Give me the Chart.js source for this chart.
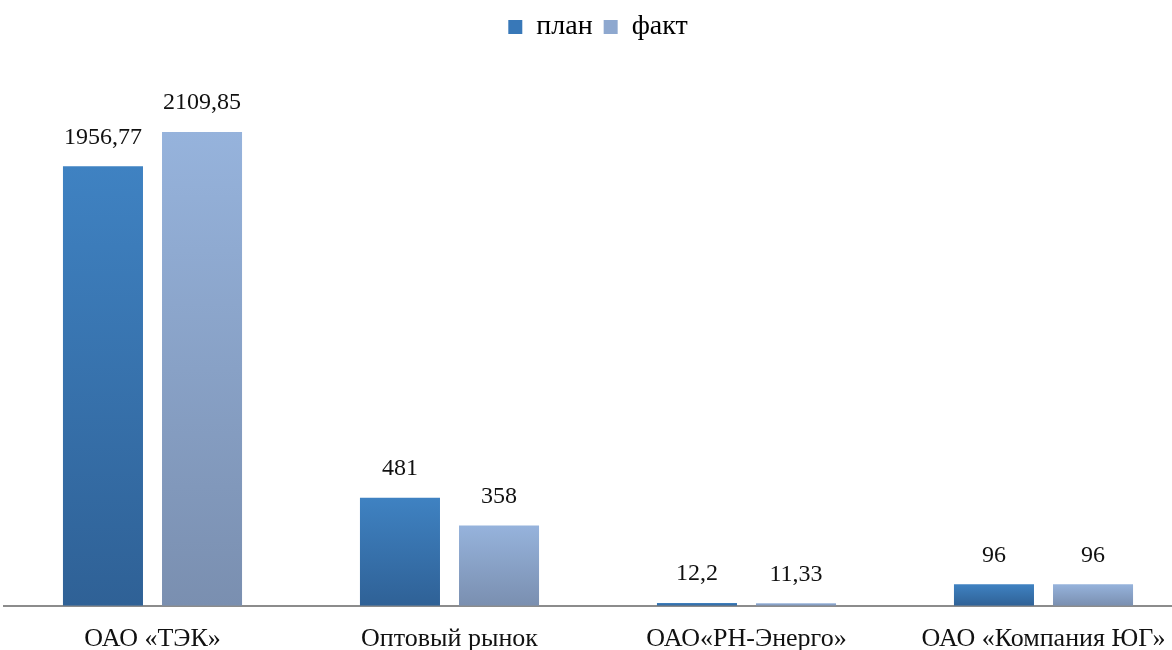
<!DOCTYPE html>
<html>
<head>
<meta charset="utf-8">
<script src="https://cdn.jsdelivr.net/npm/chart.js@4/dist/chart.umd.min.js"></script>
<style>
  html, body { margin: 0; padding: 0; background: #fff; overflow: hidden; }
  #wrap { width: 1192px; height: 673px; position: relative; }
</style>
</head>
<body>
<div id="wrap"><canvas id="c"></canvas></div>
<script>
// данные
const categories = ['ОАО «ТЭК»', 'Оптовый рынок', 'ОАО«РН-Энерго»', 'ОАО «Компания ЮГ»'];
const planValues = [1956.77, 481, 12.2, 96];
const factValues = [2109.85, 358, 11.33, 96];
const seriesNames = ['план', 'факт'];

const FONT = '"Liberation Serif", "DejaVu Serif", serif';

// цвета: верх / низ градиента
const planColors = ['#3f82c2', '#2f6196'];
const factColors = ['#96b3dc', '#7a8fb0'];

// градиент по каждому столбцу (светлее сверху, темнее снизу)
const barGradient = {
  id: 'barGradient',
  beforeDatasetDraw(chart, args) {
    const { ctx } = chart;
    const cols = args.index === 0 ? planColors : factColors;
    args.meta.data.forEach(bar => {
      const top = Math.min(bar.y, bar.base);
      const bottom = Math.max(bar.y, bar.base);
      const g = ctx.createLinearGradient(0, top, 0, bottom + 0.01);
      g.addColorStop(0, cols[0]);
      g.addColorStop(1, cols[1]);
      bar.options.backgroundColor = g;
    });
  }
};

// подписи значений над столбцами
const valueLabels = {
  id: 'valueLabels',
  afterDatasetsDraw(chart) {
    const { ctx } = chart;
    ctx.save();
    ctx.font = '24px ' + FONT;
    ctx.fillStyle = '#111';
    ctx.textAlign = 'center';
    ctx.textBaseline = 'middle';
    chart.data.datasets.forEach((ds, i) => {
      chart.getDatasetMeta(i).data.forEach((bar, j) => {
        const txt = String(ds.data[j]).replace('.', ',');
        ctx.fillText(txt, bar.x, bar.y - 29);
      });
    });
    ctx.restore();
  }
};

new Chart(document.getElementById('c'), {
  type: 'bar',
  data: {
    labels: categories,
    datasets: [
      // функция вместо цвета — чтобы у каждого столбца были свои options
      { label: seriesNames[0], data: planValues, backgroundColor: () => planColors[0] },
      { label: seriesNames[1], data: factValues, backgroundColor: () => factColors[0] }
    ]
  },
  options: {
    responsive: true,
    maintainAspectRatio: false,
    animation: false,
    categoryPercentage: 0.667,
    barPercentage: 0.808,
    layout: { padding: { left: 4, right: 0, top: 2, bottom: 0 } },
    plugins: {
      legend: {
        position: 'top',
        labels: {
          color: '#111',
          font: { size: 28, family: FONT },
          boxWidth: 14,
          boxHeight: 14,
          padding: 11,
          generateLabels: (chart) => chart.data.datasets.map((ds, i) => ({
            text: ds.label,
            fillStyle: i === 0 ? '#3878b8' : '#8ea8cf',
            strokeStyle: 'transparent',
            lineWidth: 0,
            datasetIndex: i
          }))
        }
      },
      tooltip: { enabled: false }
    },
    scales: {
      x: {
        grid: { display: false, drawTicks: false },
        border: { display: true, color: '#8c8c8c', width: 2 },
        ticks: { color: '#111', font: { size: 26, family: FONT }, padding: 18 }
      },
      y: {
        display: false,
        min: 0,
        max: 2470
      }
    }
  },
  plugins: [barGradient, valueLabels]
});
</script>
</body>
</html>
